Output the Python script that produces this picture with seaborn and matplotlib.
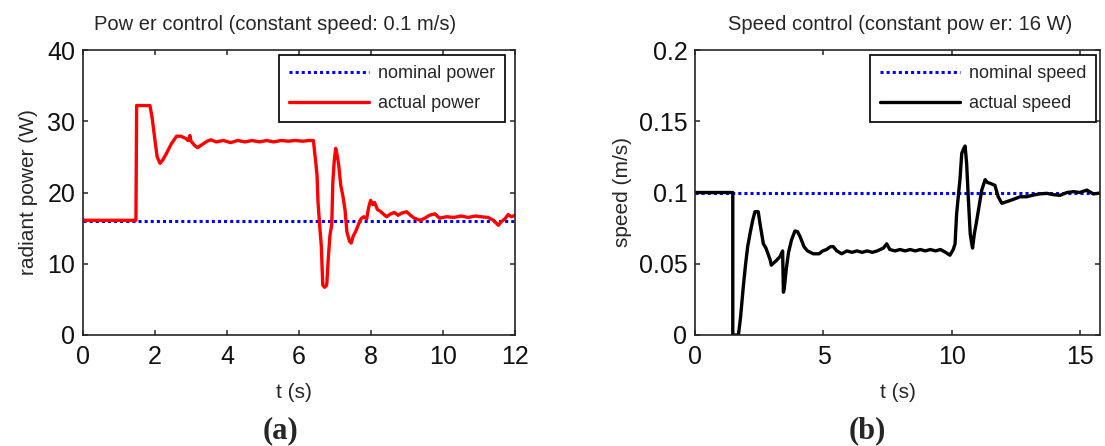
import matplotlib
matplotlib.use("Agg")
import matplotlib.pyplot as plt
import seaborn as sns
import pandas as pd

# ---- (a) power control at constant speed ----
power_t = [0, 1.47, 1.49, 1.86, 1.92, 1.97, 2.02, 2.06, 2.14, 2.22, 2.32, 2.45,
           2.60, 2.72, 2.85, 2.92, 2.97, 3.00, 3.10, 3.18, 3.30, 3.45, 3.55,
           3.70, 3.90, 4.10, 4.30, 4.50, 4.70, 4.90, 5.10, 5.30, 5.50, 5.70,
           5.90, 6.10, 6.30, 6.40, 6.47, 6.50, 6.53, 6.58, 6.62, 6.66, 6.71,
           6.77, 6.81, 6.86, 6.91, 6.94, 6.98, 7.02, 7.06, 7.10, 7.16, 7.22,
           7.28, 7.33, 7.40, 7.45, 7.50, 7.58, 7.65, 7.72, 7.80, 7.88, 7.93,
           7.99, 8.05, 8.10, 8.18, 8.25, 8.34, 8.43, 8.55, 8.65, 8.75, 8.85,
           8.99, 9.10, 9.20, 9.36, 9.50, 9.62, 9.78, 9.90, 10.10, 10.30,
           10.50, 10.70, 10.90, 11.05, 11.25, 11.40, 11.54, 11.62, 11.72,
           11.81, 11.90, 12.00]
power_actual = [16.1, 16.1, 32.2, 32.2, 30.5, 28.5, 26.5, 25.0, 24.1, 24.6, 25.5,
                26.8, 27.9, 27.9, 27.6, 27.3, 28.0, 27.2, 26.6, 26.3, 26.7, 27.2,
                27.4, 27.1, 27.3, 27.0, 27.3, 27.1, 27.3, 27.1, 27.3, 27.1, 27.3,
                27.2, 27.3, 27.2, 27.3, 27.3, 24.0, 22.5, 18.5, 15.0, 12.5, 7.0,
                6.7, 7.0, 10.5, 14.0, 15.5, 21.5, 24.5, 26.2, 25.2, 24.0, 21.0,
                19.5, 17.5, 14.5, 13.2, 12.9, 13.8, 14.6, 15.5, 16.3, 16.6, 16.3,
                17.8, 18.9, 18.3, 18.6, 17.6, 17.4, 17.0, 16.6, 17.0, 17.2, 16.8,
                17.1, 17.3, 16.8, 16.4, 16.1, 16.4, 16.8, 17.0, 16.4, 16.6, 16.5,
                16.7, 16.5, 16.7, 16.6, 16.5, 16.1, 15.4, 15.9, 16.3, 16.9, 16.6,
                16.8]
power_nominal_t = [0, 12]
power_nominal = [16, 16]

# ---- (b) speed control at constant power ----
speed_t = [0, 1.47, 1.47, 1.69, 1.77, 1.88, 1.97, 2.05, 2.14, 2.24, 2.33, 2.46,
           2.54, 2.66, 2.76, 2.92, 2.97, 3.15, 3.31, 3.41, 3.44, 3.47, 3.55,
           3.64, 3.76, 3.89, 3.99, 4.09, 4.24, 4.38, 4.60, 4.83, 4.97, 5.12,
           5.27, 5.38, 5.52, 5.71, 5.91, 6.11, 6.30, 6.50, 6.70, 6.90, 7.09,
           7.33, 7.46, 7.58, 7.78, 7.98, 8.18, 8.37, 8.57, 8.77, 8.96, 9.16,
           9.36, 9.55, 9.75, 9.92, 10.05, 10.12, 10.18, 10.26, 10.31, 10.38,
           10.46, 10.51, 10.57, 10.64, 10.71, 10.77, 10.80, 10.87, 10.95,
           11.03, 11.16, 11.29, 11.38, 11.48, 11.67, 11.80, 11.94, 12.12,
           12.36, 12.65, 12.90, 13.17, 13.40, 13.69, 13.94, 14.20, 14.48,
           14.73, 14.97, 15.25, 15.50, 15.76]
speed_actual = [0.1, 0.1, 0.0, 0.0, 0.012, 0.034, 0.05, 0.062, 0.071, 0.08,
                0.0865, 0.0865, 0.077, 0.064, 0.061, 0.053, 0.049, 0.052, 0.055,
                0.059, 0.030, 0.032, 0.046, 0.058, 0.067, 0.073, 0.0725, 0.069,
                0.062, 0.059, 0.057, 0.057, 0.059, 0.060, 0.062, 0.062, 0.059,
                0.057, 0.059, 0.058, 0.059, 0.058, 0.059, 0.058, 0.059, 0.061,
                0.064, 0.060, 0.059, 0.060, 0.059, 0.060, 0.059, 0.060, 0.059,
                0.060, 0.059, 0.060, 0.058, 0.056, 0.060, 0.064, 0.085, 0.100,
                0.109, 0.1275, 0.131, 0.1326, 0.1205, 0.0947, 0.071, 0.064,
                0.061, 0.071, 0.079, 0.0877, 0.1018, 0.109, 0.107, 0.1065,
                0.105, 0.097, 0.0924, 0.0935, 0.095, 0.097, 0.097, 0.0982,
                0.099, 0.0994, 0.0985, 0.098, 0.1, 0.1006, 0.1, 0.1017, 0.099,
                0.0996]
speed_nominal_t = [0, 15.76]
speed_nominal = [0.1, 0.1]

power_xticks = [0, 2, 4, 6, 8, 10, 12]
power_yticks = [0, 10, 20, 30, 40]
speed_xticks = [0, 5, 10, 15]
speed_yticks = [0, 0.05, 0.1, 0.15, 0.2]
speed_yticklabels = ["0", "0.05", "0.1", "0.15", "0.2"]

sns.set_style("ticks")
plt.rcParams["font.family"] = ["Liberation Sans", "DejaVu Sans"]

W, H = 1105, 446
fig = plt.figure(figsize=(W / 100, H / 100), dpi=100)
ax_a = fig.add_axes([83 / W, 1 - 335 / H, 432 / W, 285 / H])
ax_b = fig.add_axes([695 / W, 1 - 335 / H, 405 / W, 285 / H])

dot_style = dict(color="#0000ff", linewidth=2.2, linestyle=(0, (1, 1)))

df_pn = pd.DataFrame({"t": power_nominal_t, "p": power_nominal})
df_pa = pd.DataFrame({"t": power_t, "p": power_actual})
sns.lineplot(data=df_pn, x="t", y="p", ax=ax_a, estimator=None, sort=False,
             label="nominal power", **dot_style)
sns.lineplot(data=df_pa, x="t", y="p", ax=ax_a, estimator=None, sort=False,
             color="#ff0000", linewidth=2.4, label="actual power")

df_sn = pd.DataFrame({"t": speed_nominal_t, "v": speed_nominal})
df_sa = pd.DataFrame({"t": speed_t, "v": speed_actual})
sns.lineplot(data=df_sn, x="t", y="v", ax=ax_b, estimator=None, sort=False,
             label="nominal speed", **dot_style)
sns.lineplot(data=df_sa, x="t", y="v", ax=ax_b, estimator=None, sort=False,
             color="#000000", linewidth=2.4, label="actual speed")

ax_a.set_xlim(0, 12)
ax_a.set_ylim(0, 40)
ax_a.set_xticks(power_xticks)
ax_a.set_yticks(power_yticks)

ax_b.set_xlim(0, 15.76)
ax_b.set_ylim(0, 0.2)
ax_b.set_xticks(speed_xticks)
ax_b.set_yticks(speed_yticks)
ax_b.set_yticklabels(speed_yticklabels)

panels = [
    (ax_a, "Pow er control (constant speed: 0.1 m/s)", 275, "radiant power (W)",
     -0.125, 0.488, (0.977, 0.982)),
    (ax_b, "Speed control (constant pow er: 16 W)", 900, "speed (m/s)",
     -0.18, 0.5, (0.990, 0.982)),
]
for ax, title, tx, ylab, ylx, xlx, anchor in panels:
    for s in ax.spines.values():
        s.set_visible(True)
        s.set_linewidth(1.2)
        s.set_color("#262626")
    ax.tick_params(direction="in", length=3.5, width=1.1, colors="#262626",
                   labelcolor="#111111", labelsize=18, top=True, right=True)
    ax.tick_params(axis="x", pad=7)
    ax.tick_params(axis="y", pad=5.5)
    # title centred at a fixed figure position above each panel
    # (passing y turns off automatic title placement)
    ax.set_title(title, fontsize=14.5, y=1.0)
    ax.title.set_transform(fig.transFigure)
    ax.title.set_position((tx / W, 1 - 25 / H))
    ax.title.set_ha("center")
    ax.title.set_va("center")
    ax.set_xlabel("t (s)", fontsize=15)
    ax.xaxis.label.set_va("center")
    ax.xaxis.set_label_coords(xlx, (335 - 392) / 285)
    ax.set_ylabel(ylab, fontsize=15)
    ax.yaxis.label.set_va("center")
    ax.yaxis.set_label_coords(ylx, 0.5)
    leg = ax.legend(loc="upper right", bbox_to_anchor=anchor, borderaxespad=0,
                    fontsize=13, handlelength=4.4, handletextpad=0.5,
                    labelspacing=0.72, borderpad=0.55, fancybox=False,
                    framealpha=1, edgecolor="#111111")
    leg.get_frame().set_linewidth(1.3)

fig.text(280 / W, 1 - 431 / H, "(a)", ha="center", va="center",
         fontsize=22, fontweight="bold", family=["Liberation Serif", "DejaVu Serif"])
fig.text(867 / W, 1 - 431 / H, "(b)", ha="center", va="center",
         fontsize=22, fontweight="bold", family=["Liberation Serif", "DejaVu Serif"])

fig.savefig("out.png", dpi=100, facecolor="white")
